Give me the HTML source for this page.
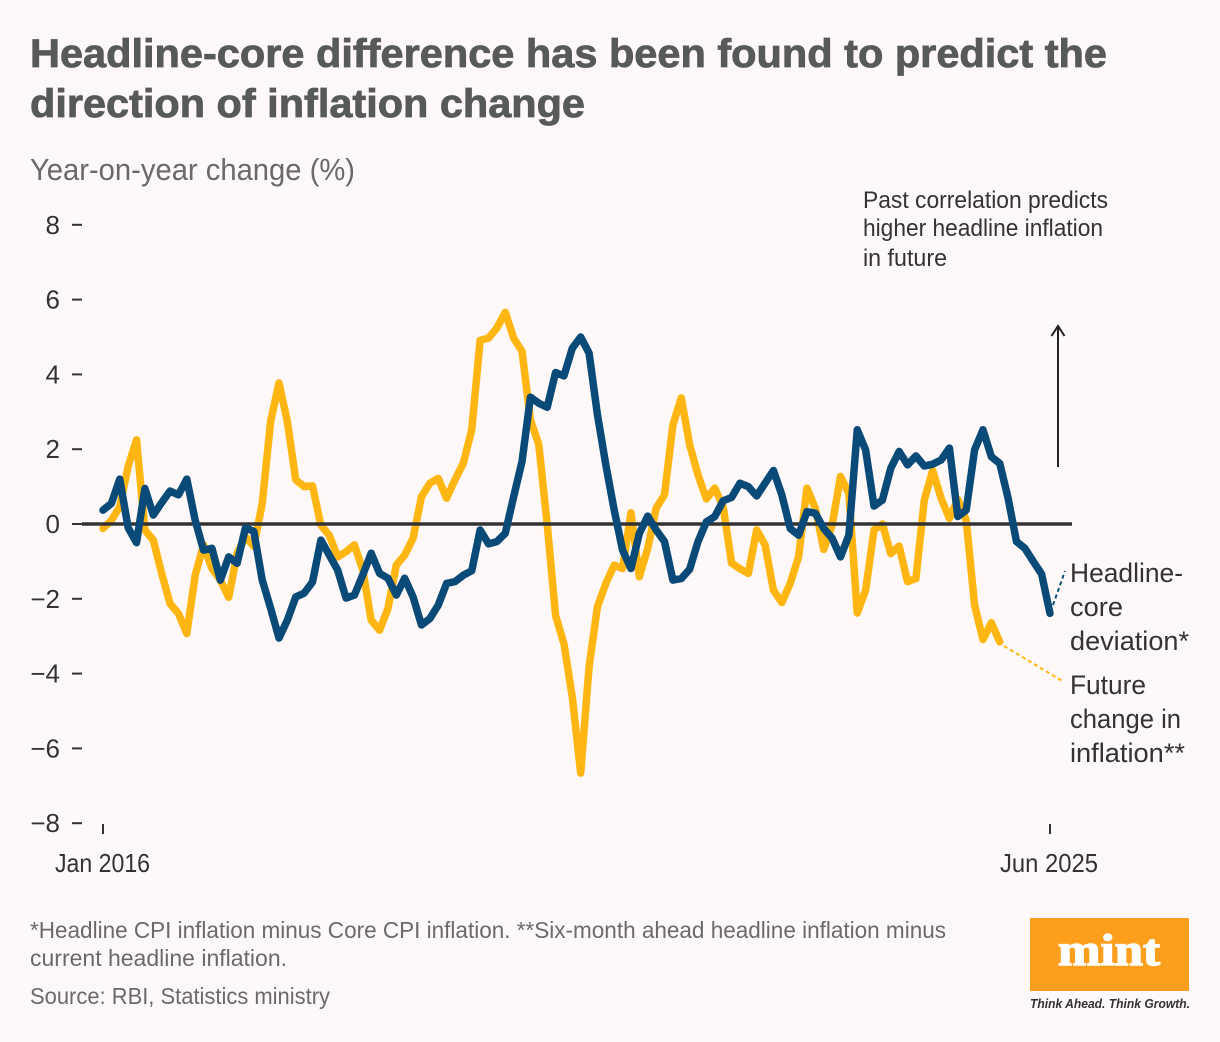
<!DOCTYPE html>
<html lang="en">
<head>
<meta charset="utf-8">
<title>Headline-core difference</title>
<style>
html,body{margin:0;padding:0;background:#fef9f8;}
body{width:1220px;height:1042px;overflow:hidden;}
svg{display:block;font-family:"Liberation Sans",sans-serif;}
</style>
</head>
<body>
<svg id="chart" width="1220" height="1042" viewBox="0 0 1220 1042">
  <rect width="1220" height="1042" fill="#fef9f8"/>
  <text x="30" y="67" font-size="40" font-weight="700" fill="#58595b" stroke="#58595b" stroke-width="0.8" textLength="1077" lengthAdjust="spacingAndGlyphs">Headline-core difference has been found to predict the</text>
  <text x="30" y="117" font-size="40" font-weight="700" fill="#58595b" stroke="#58595b" stroke-width="0.8" textLength="555" lengthAdjust="spacingAndGlyphs">direction of inflation change</text>
  <text x="30" y="180" font-size="31" fill="#6a6a6a" textLength="325" lengthAdjust="spacingAndGlyphs">Year-on-year change (%)</text>

  <g id="axes"></g>
  <g id="series"></g>

  <text x="863" y="208" font-size="24" fill="#333" textLength="245" lengthAdjust="spacingAndGlyphs">Past correlation predicts</text>
  <text x="863" y="236" font-size="24" fill="#333" textLength="240" lengthAdjust="spacingAndGlyphs">higher headline inflation</text>
  <text x="863" y="266" font-size="24" fill="#333" textLength="84" lengthAdjust="spacingAndGlyphs">in future</text>
  <g stroke="#222" stroke-width="2" fill="none">
    <line x1="1058" y1="467" x2="1058" y2="327"/>
    <polyline points="1051.5,336 1058,326 1064.5,336"/>
  </g>

  <line x1="1053" y1="605" x2="1065" y2="571" stroke="#0a4a78" stroke-width="2" stroke-dasharray="4 3"/>
  <line x1="1004" y1="646" x2="1064" y2="682" stroke="#ffb612" stroke-width="2" stroke-dasharray="4 3"/>

  <g font-size="27" fill="#333">
    <text x="1070" y="582" textLength="113" lengthAdjust="spacingAndGlyphs">Headline-</text>
    <text x="1070" y="616" textLength="53" lengthAdjust="spacingAndGlyphs">core</text>
    <text x="1070" y="650" textLength="119" lengthAdjust="spacingAndGlyphs">deviation*</text>
  </g>
  <g font-size="27" fill="#333">
    <text x="1070" y="694" textLength="76" lengthAdjust="spacingAndGlyphs">Future</text>
    <text x="1070" y="728" textLength="111" lengthAdjust="spacingAndGlyphs">change in</text>
    <text x="1070" y="762" textLength="115" lengthAdjust="spacingAndGlyphs">inflation**</text>
  </g>

  <text x="30" y="938" font-size="23" fill="#6a6a6a" textLength="916" lengthAdjust="spacingAndGlyphs">*Headline CPI inflation minus Core CPI inflation. **Six-month ahead headline inflation minus</text>
  <text x="30" y="966" font-size="23" fill="#6a6a6a" textLength="257" lengthAdjust="spacingAndGlyphs">current headline inflation.</text>
  <text x="30" y="1004" font-size="23" fill="#6a6a6a" textLength="300" lengthAdjust="spacingAndGlyphs">Source: RBI, Statistics ministry</text>

  <g>
    <rect x="1030" y="918" width="159" height="73" fill="#fd9f1c"/>
    <text x="1109" y="965" text-anchor="middle" font-family="'Liberation Serif',serif" font-weight="700" font-size="44" fill="#fff" stroke="#fff" stroke-width="1.4" textLength="102" lengthAdjust="spacingAndGlyphs">mint</text>
    <text x="1030" y="1008" font-size="13" font-style="italic" font-weight="700" fill="#333" textLength="160" lengthAdjust="spacingAndGlyphs">Think Ahead. Think Growth.</text>
  </g>
</svg>

<script>
const yTicks = [8, 6, 4, 2, 0, -2, -4, -6, -8];
const xTickIndexes = [0, 113];
const xTickLabels = ["Jan 2016", "Jun 2025"];
const headlineCoreDeviation = [
  0.37,0.55,1.2,-0.1,-0.5,0.95,0.24,0.57,0.88,0.78,1.2,0.1,
  -0.7,-0.65,-1.5,-0.88,-1.05,-0.1,-0.2,-1.5,-2.25,-3.05,-2.57,-1.95,
  -1.85,-1.55,-0.43,-0.83,-1.23,-1.98,-1.9,-1.36,-0.78,-1.32,-1.45,-1.9,
  -1.45,-1.95,-2.7,-2.53,-2.17,-1.59,-1.54,-1.37,-1.25,-0.16,-0.53,-0.47,
  -0.25,0.73,1.67,3.39,3.23,3.12,4.05,3.96,4.7,5.0,4.57,2.92,
  1.58,0.37,-0.7,-1.19,-0.25,0.21,-0.16,-0.47,-1.5,-1.46,-1.21,-0.47,
  0.06,0.2,0.62,0.71,1.09,1.0,0.75,1.09,1.43,0.78,-0.12,-0.3,
  0.33,0.29,-0.12,-0.38,-0.88,-0.3,2.52,1.98,0.48,0.64,1.49,1.94,
  1.58,1.82,1.55,1.6,1.71,2.03,0.2,0.37,1.98,2.52,1.8,1.62,
  0.69,-0.47,-0.65,-1.0,-1.34,-2.39
];
const futureInflationChange = [
  -0.12,0.1,0.46,1.54,2.25,-0.16,-0.43,-1.32,-2.13,-2.39,-2.93,-1.37,
  -0.56,-1.19,-1.5,-1.96,-0.79,-0.34,-0.6,0.55,2.74,3.77,2.74,1.18,
  1.0,1.02,-0.03,-0.3,-0.88,-0.74,-0.56,-1.23,-2.57,-2.84,-2.26,-1.1,
  -0.83,-0.38,0.73,1.09,1.22,0.69,1.18,1.63,2.52,4.91,4.97,5.24,
  5.66,4.97,4.62,2.79,2.12,0.0,-2.44,-3.2,-4.63,-6.66,-3.82,-2.21,
  -1.59,-1.1,-1.19,0.3,-1.41,-0.65,0.42,0.78,2.65,3.37,2.12,1.31,
  0.67,0.96,0.46,-1.04,-1.2,-1.32,-0.16,-0.56,-1.77,-2.1,-1.59,-0.88,
  0.96,0.42,-0.68,-0.03,1.27,0.82,-2.38,-1.77,-0.16,0.0,-0.79,-0.59,
  -1.54,-1.46,0.64,1.43,0.69,0.15,0.66,0.1,-2.17,-3.09,-2.64,-3.15
];

const NS = "http://www.w3.org/2000/svg";
function xScale(i) { return 103 + (1050 - 103) * i / 113; }
function yScale(v) { return 524 - 37.4 * v; }
function make(tag, attrs, parent) {
  const el = document.createElementNS(NS, tag);
  for (const k in attrs) el.setAttribute(k, attrs[k]);
  parent.appendChild(el);
  return el;
}

const axes = document.getElementById("axes");
yTicks.forEach(function (t) {
  const label = make("text", { x: 60, y: yScale(t) + 9, "font-size": 26, "text-anchor": "end", fill: "#333" }, axes);
  
  
  label.textContent = t < 0 ? "\u2212" + Math.abs(t) : String(t);
  const tick = make("line", { x1: 72, x2: 82, y1: yScale(t), y2: yScale(t), stroke: "#333", "stroke-width": 2 }, axes);
  
  
});
xTickIndexes.forEach(function (idx, n) {
  const tick = make("line", { x1: xScale(idx), x2: xScale(idx), y1: 824, y2: 834, stroke: "#333", "stroke-width": 2 }, axes);
  
  
  const label = make("text", { x: xScale(idx) - (n === 0 ? 0.5 : 1), y: 872, "font-size": 26, "text-anchor": "middle", fill: "#333", textLength: n === 0 ? 95 : 98, lengthAdjust: "spacingAndGlyphs" }, axes);
  
  
  label.textContent = xTickLabels[n];
});

const seriesGroup = document.getElementById("series");
function linePoints(values) {
  return values.map(function (v, i) { return xScale(i).toFixed(2) + "," + yScale(v).toFixed(2); }).join(" ");
}
const futureLine = make("polyline", { points: linePoints(futureInflationChange), fill: "none", stroke: "#ffb612", "stroke-width": 7.5, "stroke-linejoin": "round", "stroke-linecap": "round" }, seriesGroup);


const zeroLine = make("line", { x1: 82, x2: 1072, y1: yScale(0), y2: yScale(0), stroke: "#333", "stroke-width": 3.5 }, seriesGroup);


const headlineLine = make("polyline", { points: linePoints(headlineCoreDeviation), fill: "none", stroke: "#0a4a78", "stroke-width": 7.5, "stroke-linejoin": "round", "stroke-linecap": "round" }, seriesGroup);


</script>
</body>
</html>
